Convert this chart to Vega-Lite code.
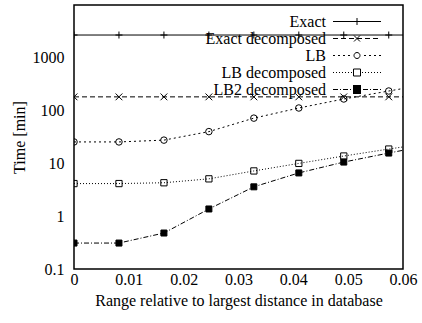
{
  "$schema": "https://vega.github.io/schema/vega-lite/v6.json",
  "width": 329,
  "height": 264,
  "autosize": {"type": "none"},
  "padding": {"left": 74, "top": 5, "right": 19, "bottom": 54},
  "config": {
    "font": "Liberation Serif",
    "view": {"stroke": "black", "strokeWidth": 1.5},
    "axis": {"domain": false, "grid": false, "tickColor": "black", "tickWidth": 1, "tickSize": 0, "labelColor": "black", "titleColor": "black", "labelFontSize": 16, "titleFontSize": 16, "titleFontWeight": "normal", "labelFont": "Liberation Serif", "titleFont": "Liberation Serif"},
    "legend": {"labelFont": "Liberation Serif", "labelFontSize": 16, "labelColor": "black"}
  },
  "data": {"values": [
    {"x": 0, "t": 2700, "series": "Exact"},
    {"x": 0.0082, "t": 2700, "series": "Exact"},
    {"x": 0.0164, "t": 2700, "series": "Exact"},
    {"x": 0.0246, "t": 2700, "series": "Exact"},
    {"x": 0.0328, "t": 2700, "series": "Exact"},
    {"x": 0.041, "t": 2700, "series": "Exact"},
    {"x": 0.0492, "t": 2700, "series": "Exact"},
    {"x": 0.0574, "t": 2700, "series": "Exact"},
    {"x": 0.0656, "t": 2700, "series": "Exact"},
    {"x": 0, "t": 182, "series": "Exact decomposed"},
    {"x": 0.0082, "t": 182, "series": "Exact decomposed"},
    {"x": 0.0164, "t": 182, "series": "Exact decomposed"},
    {"x": 0.0246, "t": 182, "series": "Exact decomposed"},
    {"x": 0.0328, "t": 182, "series": "Exact decomposed"},
    {"x": 0.041, "t": 182, "series": "Exact decomposed"},
    {"x": 0.0492, "t": 182, "series": "Exact decomposed"},
    {"x": 0.0574, "t": 182, "series": "Exact decomposed"},
    {"x": 0.0656, "t": 182, "series": "Exact decomposed"},
    {"x": 0, "t": 25.5, "series": "LB"},
    {"x": 0.0082, "t": 25.5, "series": "LB"},
    {"x": 0.0164, "t": 27.6, "series": "LB"},
    {"x": 0.0246, "t": 40, "series": "LB"},
    {"x": 0.0328, "t": 72, "series": "LB"},
    {"x": 0.041, "t": 112, "series": "LB"},
    {"x": 0.0492, "t": 166, "series": "LB"},
    {"x": 0.0574, "t": 235, "series": "LB"},
    {"x": 0.0656, "t": 330, "series": "LB"},
    {"x": 0, "t": 4.15, "series": "LB decomposed"},
    {"x": 0.0082, "t": 4.15, "series": "LB decomposed"},
    {"x": 0.0164, "t": 4.3, "series": "LB decomposed"},
    {"x": 0.0246, "t": 5.1, "series": "LB decomposed"},
    {"x": 0.0328, "t": 7.2, "series": "LB decomposed"},
    {"x": 0.041, "t": 10, "series": "LB decomposed"},
    {"x": 0.0492, "t": 13.8, "series": "LB decomposed"},
    {"x": 0.0574, "t": 18.7, "series": "LB decomposed"},
    {"x": 0.0656, "t": 25, "series": "LB decomposed"},
    {"x": 0, "t": 0.31, "series": "LB2 decomposed"},
    {"x": 0.0082, "t": 0.31, "series": "LB2 decomposed"},
    {"x": 0.0164, "t": 0.48, "series": "LB2 decomposed"},
    {"x": 0.0246, "t": 1.37, "series": "LB2 decomposed"},
    {"x": 0.0328, "t": 3.6, "series": "LB2 decomposed"},
    {"x": 0.041, "t": 6.6, "series": "LB2 decomposed"},
    {"x": 0.0492, "t": 10.6, "series": "LB2 decomposed"},
    {"x": 0.0574, "t": 15.7, "series": "LB2 decomposed"},
    {"x": 0.0656, "t": 23, "series": "LB2 decomposed"}
  ]},
  "layer": [
    {
      "mark": {"type": "line", "color": "black", "strokeWidth": 1, "clip": true},
      "encoding": {
        "x": {"field": "x", "type": "quantitative", "scale": {"domain": [0, 0.06], "nice": false, "zero": false},
          "axis": {"orient": "bottom", "title": "Range relative to largest distance in database", "values": [0, 0.01, 0.02, 0.03, 0.04, 0.05, 0.06], "format": "~g", "labelPadding": 2, "titlePadding": 5, "labelFlush": false,
            "encode": {"ticks": {"y2": {"value": -5}}}}},
        "y": {"field": "t", "type": "quantitative", "scale": {"type": "log", "domain": [0.1, 10000], "nice": false},
          "axis": {"orient": "left", "title": "Time [min]", "values": [0.1, 0.2, 0.5, 1, 2, 5, 10, 20, 50, 100, 200, 500, 1000, 2000, 5000, 10000], "labelExpr": "indexof([0.1, 1, 10, 100, 1000], datum.value) >= 0 ? datum.value + '' : ''", "labelPadding": 10, "titlePadding": 5,
            "encode": {"ticks": {"x2": {"value": {"expr": "indexof([0.1, 1, 10, 100, 1000, 10000], datum.value) >= 0 ? 6 : 3"}}}}}},
        "strokeDash": {"field": "series", "type": "nominal", "legend": null,
          "scale": {"domain": ["Exact", "Exact decomposed", "LB", "LB decomposed", "LB2 decomposed"], "range": [[1, 0], [5, 3], [2, 3], [1, 2], [5, 2, 1, 2]]}}
      }
    },
    {
      "mark": {"type": "point", "stroke": "black", "strokeWidth": 1, "opacity": 1, "clip": true},
      "encoding": {
        "x": {"field": "x", "type": "quantitative", "scale": {"domain": [0, 0.06], "nice": false, "zero": false},
          "axis": {"orient": "top", "title": null, "labels": false, "values": [0.01, 0.02, 0.03, 0.04, 0.05],
            "encode": {"ticks": {"y2": {"value": 5}}}}},
        "y": {"field": "t", "type": "quantitative", "scale": {"type": "log", "domain": [0.1, 10000], "nice": false},
          "axis": {"orient": "right", "title": null, "labels": false, "values": [0.2, 0.5, 1, 2, 5, 10, 20, 50, 100, 200, 500, 1000, 2000, 5000],
            "encode": {"ticks": {"x2": {"value": {"expr": "indexof([0.1, 1, 10, 100, 1000, 10000], datum.value) >= 0 ? -6 : -3"}}}}}},
        "shape": {"field": "series", "type": "nominal", "legend": null,
          "scale": {"range": ["M-1,0H1M0,-1V1", "M-1,-1L1,1M-1,1L1,-1", "circle", "square", "square"]}},
        "size": {"field": "series", "type": "nominal", "legend": null,
          "scale": {"range": [49, 36, 36, 49, 64]}},
        "fill": {"field": "series", "type": "nominal", "legend": null,
          "scale": {"range": ["transparent", "transparent", "transparent", "transparent", "black"]}}
      }
    },
    {
      "transform": [{"filter": "false"}],
      "mark": {"type": "point", "stroke": "black", "clip": true},
      "encoding": {
        "x": {"field": "x", "type": "quantitative", "axis": null},
        "y": {"field": "t", "type": "quantitative", "axis": null},
        "shape": {"field": "series", "type": "nominal",
          "scale": {"domain": ["Exact", "Exact decomposed", "LB", "LB decomposed", "LB2 decomposed"],
            "range": [
              "M-24,0H24M0,-3.5V3.5",
              "M-24,0H-19M-16,0H-11M-8,0H-3M0,0H5M8,0H13M16,0H21M-3,-3L3,3M-3,3L3,-3",
              "M-24,0H-22M-19,0H-17M-14,0H-12M-9,0H-7M7,0H9M12,0H14M17,0H19M22,0H24M-3,0A3,3 0 1,0 3,0A3,3 0 1,0 -3,0",
              "M-24,0H-23M-21,0H-20M-18,0H-17M-15,0H-14M-12,0H-11M-9,0H-8M-6,0H-5M5,0H6M8,0H9M11,0H12M14,0H15M17,0H18M20,0H21M23,0H24M-3.5,-3.5H3.5V3.5H-3.5Z",
              "M-24,0H-19M-17,0H-16M-14,0H-9M-7,0H-6M6,0H11M13,0H14M16,0H21M23,0H24M-4,-4H4M-4,-3H4M-4,-2H4M-4,-1H4M-4,0H4M-4,1H4M-4,2H4M-4,3H4M-4,4H4"
            ]},
          "legend": {"title": null, "orient": "none", "legendX": 275, "legendY": 8.5, "symbolSize": 4, "symbolStrokeColor": "black", "symbolFillColor": "transparent", "symbolStrokeWidth": 1, "symbolOpacity": 1, "labelAlign": "right", "labelOffset": -39, "rowPadding": 1, "labelBaseline": "middle"}}
      }
    }
  ],
  "resolve": {"axis": {"x": "independent", "y": "independent"}, "scale": {"shape": "independent"}}
}
